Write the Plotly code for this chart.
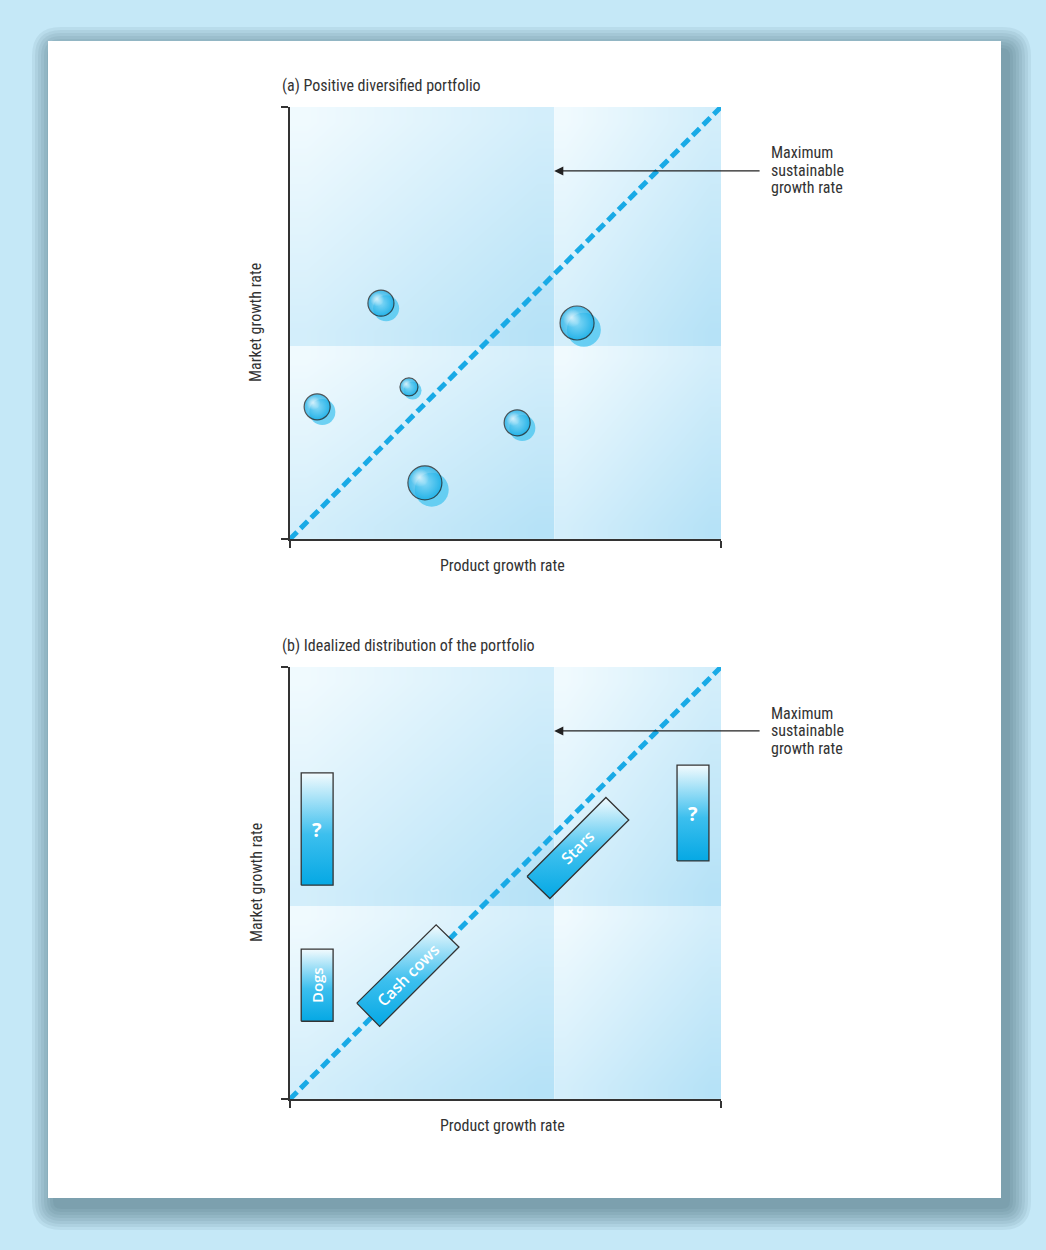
import plotly.graph_objects as go
import numpy as np

W, H = 1046, 1250

# ---------------- data ----------------
x_split = 6.13          # product growth boundary between quadrants
y_split = 4.47          # market growth boundary between quadrants
msr_x = [0, 10]         # maximum sustainable growth rate line
msr_y = [0, 10]
arrow_y = 8.52

bubble_x = [2.11, 6.66, 2.76, 0.63, 5.27, 3.13]
bubble_y = [5.46, 5.00, 3.52, 3.06, 2.69, 1.30]
bubble_size = [26, 34, 18, 26, 26, 34]

box_labels = ["?", "Dogs", "?", "Cash cows", "Stars"]
box_x = [[0.26, 1.00, 1.00, 0.26], [0.26, 1.00, 1.00, 0.26], [8.98, 9.72, 9.72, 8.98],
         [1.55, 3.39, 3.92, 2.08], [5.50, 7.33, 7.86, 6.03]]
box_y = [[4.95, 4.95, 7.55, 7.55], [1.80, 1.80, 3.47, 3.47], [5.51, 5.51, 7.73, 7.73],
         [2.22, 4.03, 3.52, 1.68], [5.15, 6.98, 6.46, 4.64]]
label_x = [0.63, 0.63, 9.35, 2.74, 6.68]
label_y = [6.23, 2.64, 6.60, 2.87, 5.83]
label_angle = [0, -90, 0, -45, -45]
label_size = [20, 15, 20, 16, 16]

titles = ["(a) Positive diversified portfolio", "(b) Idealized distribution of the portfolio"]
x_title = "Product growth rate"
y_title = "Market growth rate"
msr_lines = ["Maximum", "sustainable", "growth rate"]

FONT = "Liberation Sans Narrow, Arial Narrow, Roboto Condensed, sans-serif"
TXT = "#333333"
LINE_BLUE = "#19aae6"

# ---------------- layout geometry (pixels) ----------------
PX_L, PX_R = 290, 721
PANEL_TOP = [107, 667]
PANEL_BOT = [539, 1099]
ppu_x = (PX_R - PX_L) / 10.0
ppu_y = (PANEL_BOT[0] - PANEL_TOP[0]) / 10.0

def px(x):
    return x / W

def py(y):
    return 1 - y / H

fig = go.Figure()

# ---------------- quadrant backgrounds ----------------
N = 8
def quad_heat(x0, x1, y0, y1, xa, ya):
    xe = np.linspace(x0, x1, N + 1)
    ye = np.linspace(y0, y1, N + 1)
    i = np.arange(N)
    # 0 at top-left -> 1 at bottom-right
    z = ((N - 1 - i)[:, None] + i[None, :]) / (2.0 * (N - 1))
    return go.Heatmap(x=xe, y=ye, z=z, zmin=0, zmax=1, zsmooth="best",
                      colorscale=[[0, "#f0fafe"], [1, "#b6e2f7"]],
                      showscale=False, hoverinfo="skip", xaxis=xa, yaxis=ya)

for xa, ya in [("x", "y"), ("x2", "y2")]:
    for (x0, x1) in [(0, x_split), (x_split, 10)]:
        for (y0, y1) in [(0, y_split), (y_split, 10)]:
            fig.add_trace(quad_heat(x0, x1, y0, y1, xa, ya))

# ---------------- dashed line ----------------
for xa, ya in [("x", "y"), ("x2", "y2")]:
    fig.add_trace(go.Scatter(x=msr_x, y=msr_y, mode="lines", xaxis=xa, yaxis=ya,
                             line=dict(color=LINE_BLUE, width=5, dash="10px,5px"),
                             hoverinfo="skip", showlegend=False))

# ---------------- bubbles (panel a) ----------------
sh_dx = [0.2 * s / ppu_x for s in bubble_size]
sh_dy = [-0.2 * s / ppu_y for s in bubble_size]
fig.add_trace(go.Scatter(x=[a + b for a, b in zip(bubble_x, sh_dx)],
                         y=[a + b for a, b in zip(bubble_y, sh_dy)],
                         mode="markers", marker=dict(size=bubble_size, color="#3cc2f0",
                                                     line=dict(width=0)),
                         hoverinfo="skip", showlegend=False))
fig.add_trace(go.Scatter(x=bubble_x, y=bubble_y, mode="markers",
                         marker=dict(size=bubble_size, color="#0aa8e4",
                                     gradient=dict(type="radial", color="#8fdcf8"),
                                     line=dict(width=1.2, color="#111111")),
                         hoverinfo="skip", showlegend=False))
hl_dx = [-0.15 * s / ppu_x for s in bubble_size]
hl_dy = [0.15 * s / ppu_y for s in bubble_size]
fig.add_trace(go.Scatter(x=[a + b for a, b in zip(bubble_x, hl_dx)],
                         y=[a + b for a, b in zip(bubble_y, hl_dy)],
                         mode="markers",
                         marker=dict(size=[0.55 * s for s in bubble_size],
                                     color="rgba(255,255,255,0)",
                                     gradient=dict(type="radial", color="rgba(255,255,255,1)"),
                                     line=dict(width=0)),
                         hoverinfo="skip", showlegend=False))

# ---------------- boxes (panel b) ----------------
for bx, by in zip(box_x, box_y):
    fig.add_trace(go.Scatter(x=bx + [bx[0]], y=by + [by[0]], mode="lines", fill="toself",
                             xaxis="x2", yaxis="y2",
                             line=dict(color="#333333", width=1.3),
                             fillgradient=dict(type="vertical",
                                               colorscale=[[0, "#05a8e4"], [0.45, "#3cbfee"], [1, "#f3fbfe"]]),
                             hoverinfo="skip", showlegend=False))

annotations = []
for t, xx, yy, ang, sz in zip(box_labels, label_x, label_y, label_angle, label_size):
    annotations.append(dict(x=xx, y=yy, xref="x2", yref="y2", text=t, showarrow=False,
                            textangle=ang, font=dict(family="Open Sans, sans-serif", size=sz,
                                                     color="white", weight="bold" if t == "?" else 600)))

# ---------------- text & arrows ----------------
for k, (xa, ya) in enumerate([("x", "y"), ("x2", "y2")]):
    top, bot = PANEL_TOP[k], PANEL_BOT[k]
    annotations.append(dict(x=px(280), y=py(top - 22), xref="paper", yref="paper",
                            text=titles[k], showarrow=False, xanchor="left", yanchor="middle",
                            font=dict(family=FONT, size=16, color=TXT)))
    annotations.append(dict(x=px(502), y=py(bot + 26), xref="paper", yref="paper",
                            text=x_title, showarrow=False, xanchor="center", yanchor="middle",
                            font=dict(family=FONT, size=16, color=TXT)))
    annotations.append(dict(x=px(256), y=py(top + 216), xref="paper", yref="paper",
                            text=y_title, showarrow=False, textangle=-90,
                            xanchor="center", yanchor="middle",
                            font=dict(family=FONT, size=16, color=TXT)))
    for j, line in enumerate(msr_lines):
        annotations.append(dict(x=px(769), y=py(top + 46 + 17.5 * j), xref="paper", yref="paper",
                                text=line, showarrow=False, xanchor="left", yanchor="middle",
                                align="left", font=dict(family=FONT, size=16, color=TXT)))
    annotations.append(dict(x=x_split, y=arrow_y, xref=xa, yref=ya,
                            ax=10.93, ay=arrow_y, axref=xa, ayref=ya, text="",
                            showarrow=True, arrowhead=2, arrowsize=1.4, arrowwidth=1.3,
                            arrowcolor="#222222", standoff=0))

# ---------------- card + shadow ----------------
def rrect(x0, y0, x1, y1, r):
    pts = (f"M {px(x0 + r)},{py(y0)} L {px(x1 - r)},{py(y0)} "
           f"Q {px(x1)},{py(y0)} {px(x1)},{py(y0 + r)} L {px(x1)},{py(y1 - r)} "
           f"Q {px(x1)},{py(y1)} {px(x1 - r)},{py(y1)} L {px(x0 + r)},{py(y1)} "
           f"Q {px(x0)},{py(y1)} {px(x0)},{py(y1 - r)} L {px(x0)},{py(y0 + r)} "
           f"Q {px(x0)},{py(y0)} {px(x0 + r)},{py(y0)} Z")
    return pts

shapes = []
CX0, CY0, CX1, CY1 = 48, 41, 1001, 1198
for k in range(8):
    e = 2 + 3 * k
    shapes.append(dict(type="path", xref="paper", yref="paper", layer="below",
                       path=rrect(CX0 + 7 - e, CY0 + 9 - e, CX1 + 7 + e, CY1 + 9 + e, 6 + e),
                       fillcolor="rgba(50,85,105,0.08)", line=dict(width=0)))
shapes.append(dict(type="rect", xref="paper", yref="paper", layer="below",
                   x0=px(CX0), x1=px(CX1), y0=py(CY1), y1=py(CY0),
                   fillcolor="white", line=dict(width=0)))

axis_common = dict(range=[0, 10], showgrid=False, zeroline=False, showticklabels=False,
                   showline=True, linecolor="#333333", linewidth=1.5,
                   ticks="outside", tickvals=[0, 10], ticklen=7, tickwidth=1.5,
                   tickcolor="#333333", fixedrange=True)

fig.update_layout(
    width=W, height=H, margin=dict(l=0, r=0, t=0, b=0),
    paper_bgcolor="#c5e8f7", plot_bgcolor="rgba(0,0,0,0)",
    showlegend=False,
    xaxis=dict(domain=[px(PX_L), px(PX_R)], anchor="y", **axis_common),
    yaxis=dict(domain=[py(PANEL_BOT[0]), py(PANEL_TOP[0])], anchor="x", **axis_common),
    xaxis2=dict(domain=[px(PX_L), px(PX_R)], anchor="y2", **axis_common),
    yaxis2=dict(domain=[py(PANEL_BOT[1]), py(PANEL_TOP[1])], anchor="x2", **axis_common),
    annotations=annotations, shapes=shapes,
)

fig.write_html("out.html", config={"displayModeBar": False},
               post_script="document.body.style.margin='0';document.body.style.background='#c5e8f7';")
